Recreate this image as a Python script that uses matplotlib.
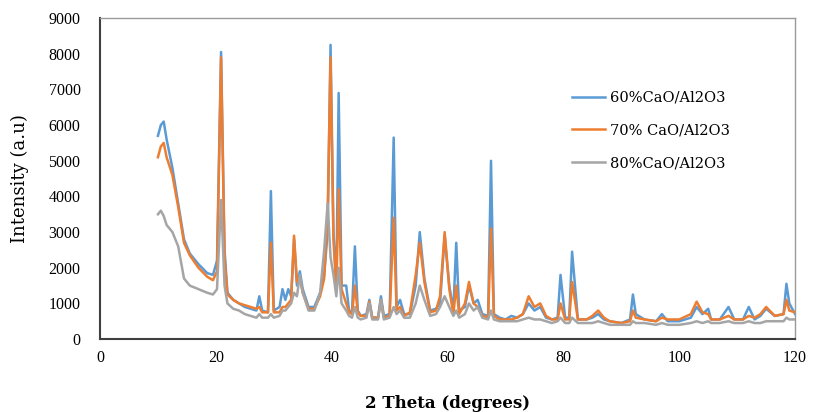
import matplotlib
matplotlib.use("Agg")
import matplotlib.pyplot as plt

# 2-theta positions shared by all three patterns
two_theta = [
    10.0, 10.5, 11.0, 11.5, 12.5, 13.5, 14.5, 15.5, 17, 18.5,
    19.5, 20.2, 20.9, 21.5, 22, 23, 24, 25, 26, 27,
    27.5, 28, 29, 29.5, 30, 31, 31.5, 32, 32.5, 33,
    33.5, 34, 34.5, 35, 36, 37, 38, 38.7, 39.3, 39.8,
    40.3, 40.8, 41.2, 41.7, 42.5, 43, 43.5, 44, 44.5, 45,
    46, 46.5, 47, 48, 48.5, 49, 50, 50.7, 51.2, 51.8,
    52.5, 53.5, 54.5, 55.2, 56, 57, 58, 58.7, 59.5, 60.3,
    61, 61.5, 62, 63, 63.7, 64.5, 65.2, 66, 67, 67.5,
    68, 69, 70, 71, 72, 73, 74, 75, 76, 77,
    78, 79, 79.5, 80.3, 81, 81.5, 82.5, 84, 85, 86,
    87, 88, 90, 91.5, 92, 92.5, 94, 96, 97, 98,
    100, 102, 103, 104, 105, 105.5, 107, 108.5, 109.5, 111,
    112, 113, 114, 115, 116.5, 118, 118.5, 119, 120,
]

cao_60 = [
    5700, 6000, 6100, 5600, 4800, 3800, 2800, 2400, 2100, 1850,
    1800, 2200, 8050, 2500, 1300, 1100, 1000, 900, 850, 800,
    1200, 800, 750, 4150, 800, 900, 1400, 1100, 1400, 1200,
    2800, 1500, 1900, 1400, 900, 900, 1300, 1800, 3000, 8250,
    3000, 1500, 6900, 1500, 1500, 800, 750, 2600, 800, 650,
    700, 1100, 600, 600, 1200, 650, 700, 5650, 900, 1100,
    700, 700, 1500, 3000, 1700, 800, 850, 1000, 2900, 1500,
    800, 2700, 800, 900, 1500, 1000, 1100, 700, 650, 5000,
    700, 600, 550, 650, 600, 700, 1000, 800, 900, 600,
    550, 600, 1800, 600, 600, 2450, 550, 550, 600, 700,
    550, 500, 450, 550, 1250, 700, 550, 500, 700, 500,
    500, 600, 900, 700, 850, 550, 550, 900, 550, 550,
    900, 550, 650, 850, 650, 700, 1550, 1000, 700,
]

cao_70 = [
    5100, 5400, 5500, 5100, 4600, 3700, 2700, 2350, 2000, 1750,
    1650, 1900, 7900, 2300, 1250, 1100, 1000, 950, 900, 850,
    900, 750, 750, 2700, 750, 750, 900, 900, 1000, 1100,
    2900, 1600, 1700, 1300, 850, 850, 1200, 1700, 3500, 7900,
    2800, 1400, 4200, 1400, 1000, 750, 700, 1500, 750, 650,
    650, 1050, 600, 600, 1100, 600, 650, 3400, 800, 900,
    650, 750, 1800, 2700, 1600, 750, 800, 1200, 3000, 1400,
    700, 1500, 700, 1000, 1600, 1000, 900, 650, 600, 3100,
    650, 550, 550, 550, 600, 700, 1200, 900, 1000, 650,
    550, 550, 1000, 550, 550, 1600, 550, 550, 650, 800,
    600, 500, 450, 500, 800, 600, 550, 500, 600, 550,
    550, 700, 1050, 750, 700, 550, 550, 650, 550, 550,
    650, 600, 700, 900, 650, 700, 1100, 800, 750,
]

cao_80 = [
    3500, 3600, 3450, 3200, 3000, 2600, 1700, 1500, 1400, 1300,
    1250, 1400, 3900, 1500, 1000, 850, 800, 700, 650, 600,
    700, 600, 600, 700, 600, 650, 800, 800, 900, 1000,
    1300, 1200, 1800, 1300, 800, 800, 1300, 2500, 3800, 2300,
    1800, 1200, 2000, 1000, 800, 650, 600, 900, 600, 550,
    600, 1000, 550, 550, 1100, 550, 600, 900, 700, 800,
    600, 600, 1000, 1500, 1100, 650, 700, 900, 1200, 900,
    650, 800, 600, 700, 1000, 800, 900, 600, 550, 800,
    550, 500, 500, 500, 500, 550, 600, 550, 550, 500,
    450, 500, 600, 450, 450, 600, 450, 450, 450, 500,
    450, 400, 400, 400, 500, 450, 450, 400, 450, 400,
    400, 450, 500, 450, 500, 450, 450, 500, 450, 450,
    500, 450, 450, 500, 500, 500, 600, 550, 550,
]

series_labels = ["60%CaO/Al2O3", "70% CaO/Al2O3", "80%CaO/Al2O3"]
series_colors = ["#5B9BD5", "#ED7D31", "#A5A5A5"]

plt.rcParams["font.family"] = ["Liberation Serif", "DejaVu Serif"]

fig = plt.figure(figsize=(8.13, 4.12), dpi=100)
ax = fig.add_axes([0.123, 0.177, 0.855, 0.779])

for ys, label, color in zip([cao_60, cao_70, cao_80], series_labels, series_colors):
    ax.plot(two_theta, ys, color=color, lw=1.8, label=label)

ax.set_xlim(0, 120)
ax.set_ylim(0, 9000)
ax.set_xticks(range(0, 121, 20))
ax.set_yticks(range(0, 9001, 1000))
ax.tick_params(length=0, labelsize=11.5)
ax.tick_params(axis="x", pad=8)
ax.tick_params(axis="y", pad=14)

for side in ("left", "bottom"):
    ax.spines[side].set_color("#404040"); ax.spines[side].set_linewidth(1.5)
for side in ("top", "right"):
    ax.spines[side].set_color("#9a9a9a"); ax.spines[side].set_linewidth(1.0)

ax.set_xlabel("2 Theta (degrees)", fontsize=12, fontweight="bold", family="DejaVu Serif", labelpad=21)
ax.set_ylabel("Intensity (a.u)", fontsize=13, family="DejaVu Serif", labelpad=14)

ax.legend(loc="upper left", bbox_to_anchor=(0.66, 0.815), frameon=False,
          prop={"family": "DejaVu Serif", "size": 10.5},
          handlelength=2.3, labelspacing=1.3, handletextpad=0.3)

fig.savefig("out.png", dpi=100)
